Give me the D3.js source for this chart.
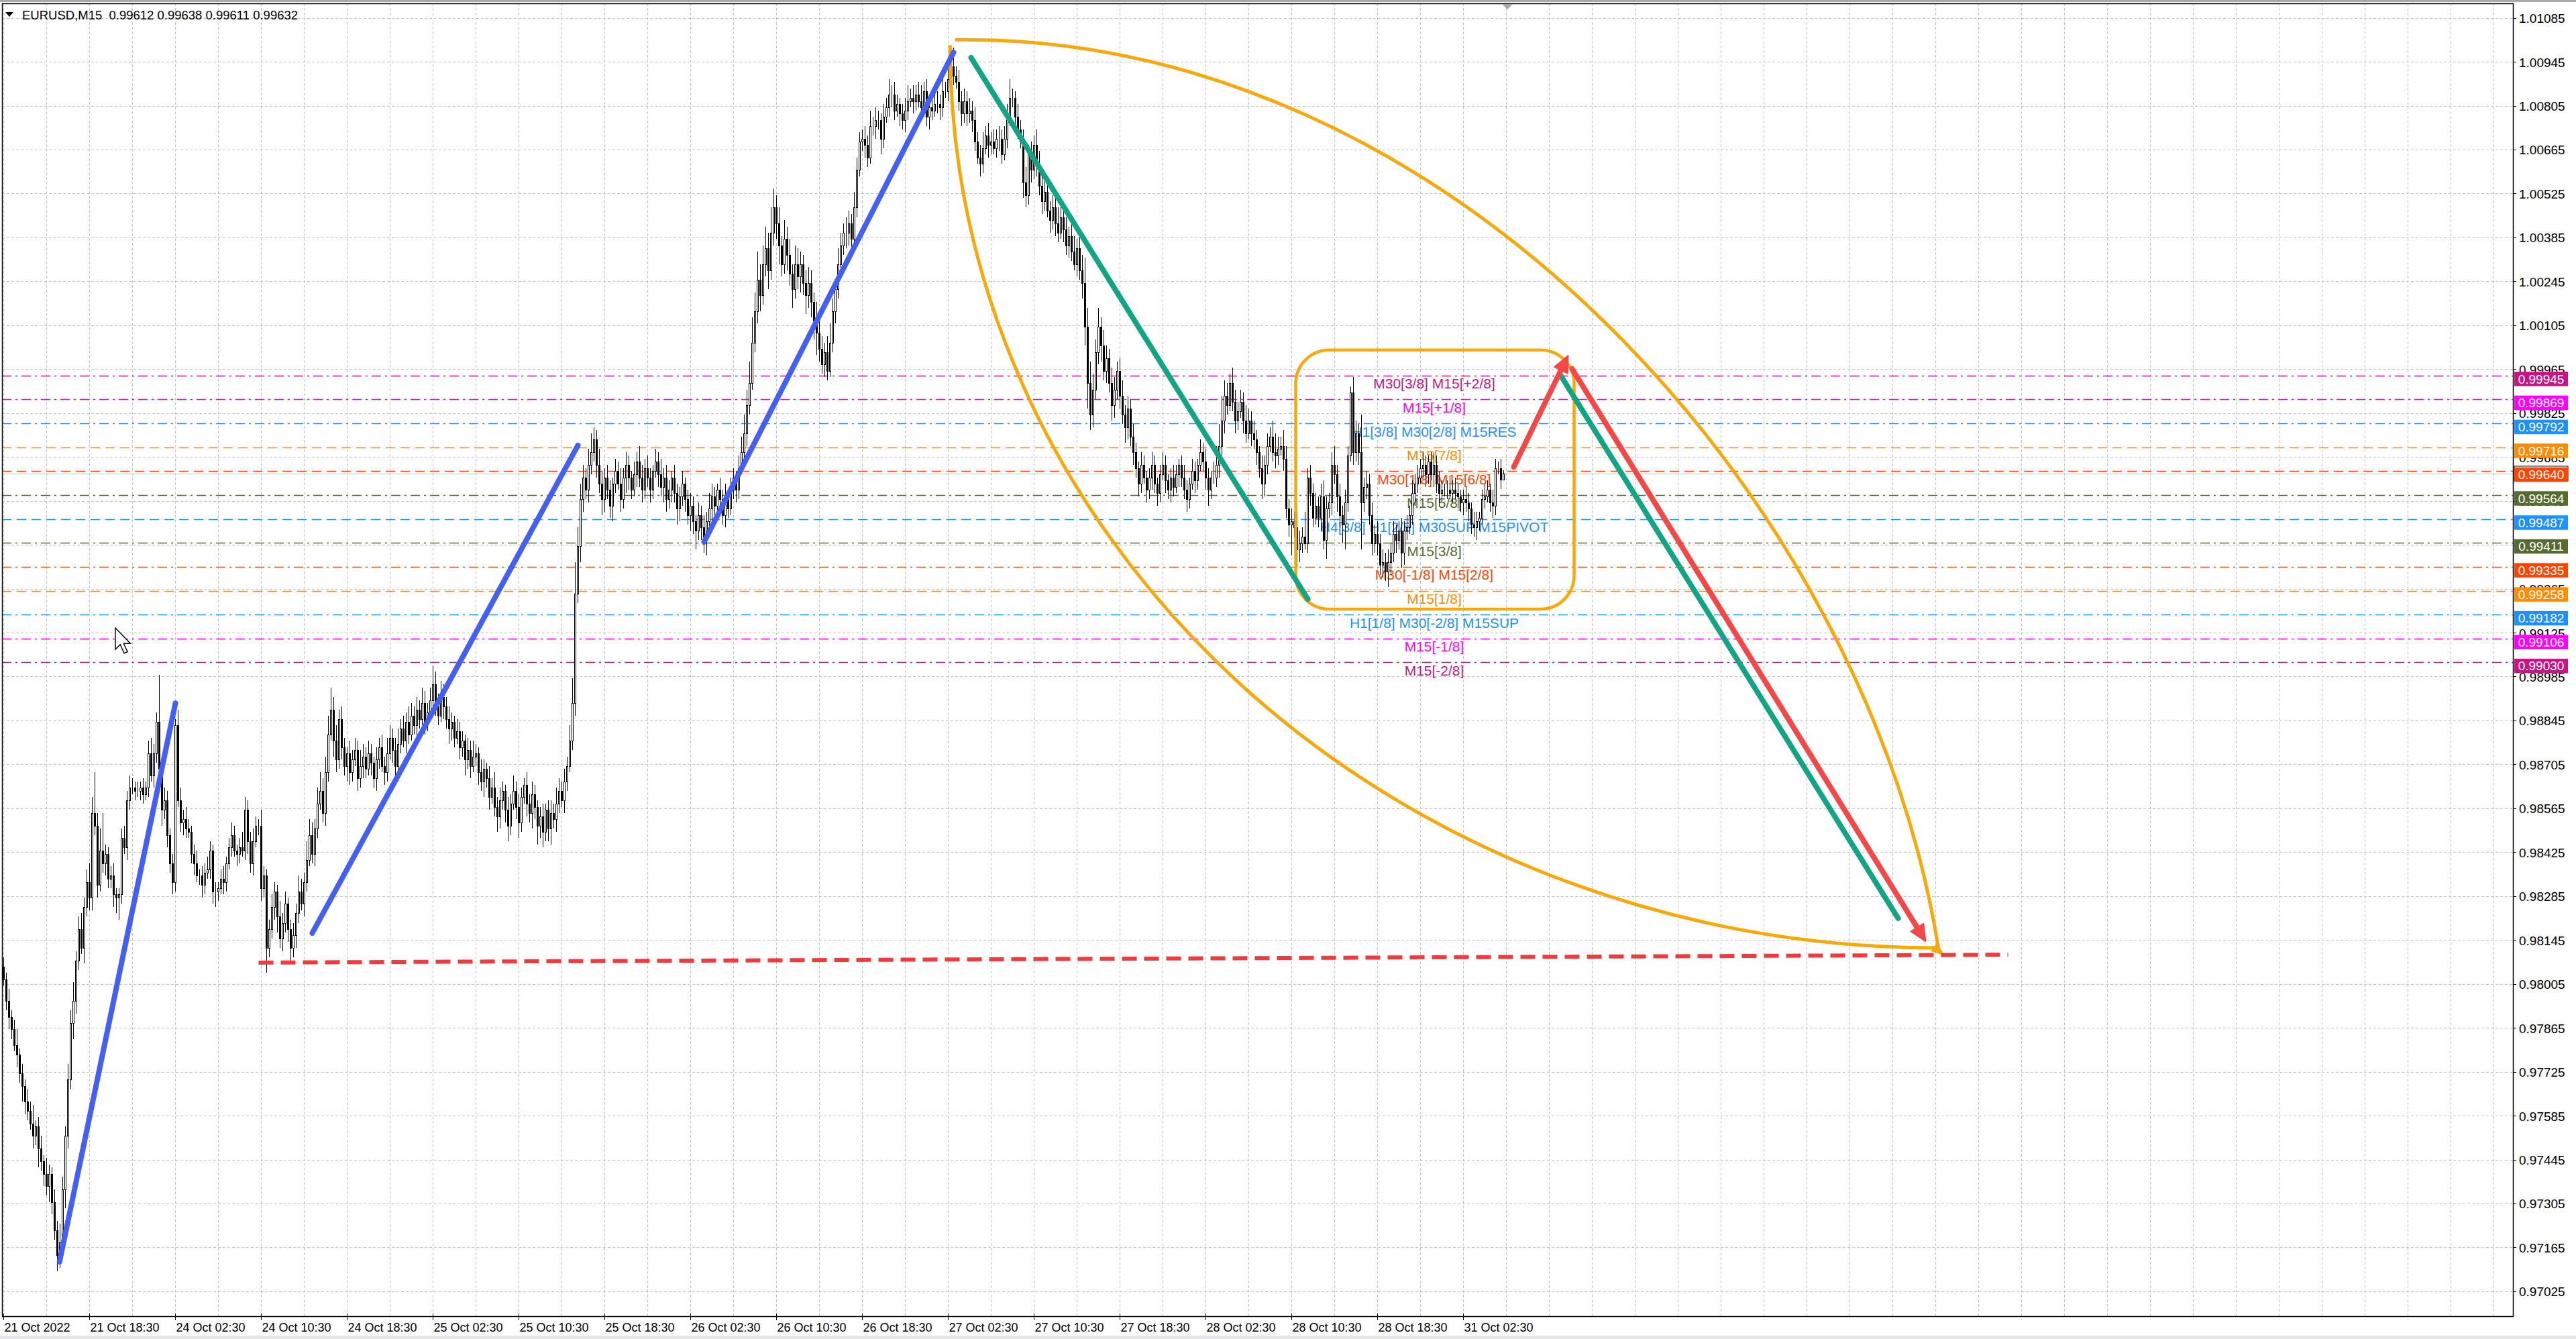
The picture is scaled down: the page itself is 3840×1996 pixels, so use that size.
<!DOCTYPE html>
<html><head><meta charset="utf-8">
<script src="https://cdn.jsdelivr.net/npm/d3@7"></script>
<style>body{margin:0;background:#fff;}svg{display:block;}text{font-family:"Liberation Sans",Arial,sans-serif;}</style>
</head><body>
<svg id="c" width="3840" height="1996"></svg>
<script>
// ---------------- DATA ----------------
const symbolTitle = "EURUSD,M15  0.99612 0.99638 0.99611 0.99632";
const firstOpen = 0.9806;
const closes = [
0.9802,0.9795,0.9790,0.9786,0.9781,0.9778,0.9772,0.9768,0.9763,0.9760,0.9756,0.9752,0.9755,0.9748,0.9744,0.9740,0.9736,0.9740,0.9731,0.9722,0.9714,0.9718,0.9735,0.9752,0.9770,0.9788,0.9795,0.9808,0.9818,0.9812,0.9825,0.9833,0.9828,
0.9855,0.9851,0.9832,0.9843,0.9839,0.9842,0.9834,0.9835,0.9829,0.9828,
0.9829,0.9847,0.9844,0.9859,0.9863,0.9863,0.9862,0.9862,0.9863,0.9861,
0.9863,0.9874,0.9867,0.9874,0.9884,0.9869,0.9856,0.9859,0.9848,0.9839,
0.9833,0.9883,0.9859,0.9852,0.9853,0.9850,0.9849,0.9842,0.9839,0.9835,
0.9835,0.9832,0.9836,0.9837,0.9843,0.9830,0.9830,0.9831,0.9834,0.9833,
0.9839,0.9844,0.9848,0.9843,0.9842,0.9844,0.9843,0.9856,0.9846,0.9839,
0.9846,0.9851,0.9851,0.9831,0.9835,0.9812,
0.9818,0.9825,0.9830,0.9822,0.9815,0.9820,0.9826,0.9818,0.9812,0.9816,
0.9823,0.9830,0.9826,0.9833,0.9840,0.9848,0.9842,0.9850,0.9858,0.9862,
0.9855,0.9868,0.9880,0.9888,0.9878,0.9872,0.9885,0.9876,0.9870,0.9874,
0.9868,0.9872,0.9875,0.9866,0.9870,0.9873,0.9869,0.9874,0.9871,0.9866,
0.9872,0.9876,0.9870,0.9868,0.9874,0.9879,0.9875,0.9870,0.9877,0.9882,
0.9878,0.9884,0.9880,0.9886,0.9883,0.9888,0.9885,0.9890,0.9884,0.9887,
0.9891,0.9896,0.9890,0.9886,0.9892,0.9889,0.9885,0.9882,0.9884,0.9879,
0.9881,0.9876,0.9878,0.9872,0.9875,0.9870,0.9873,0.9874,0.9868,0.9865,
0.9869,0.9866,0.9860,0.9863,0.9857,0.9854,0.9859,0.9862,0.9856,0.9851,
0.9858,0.9862,0.9857,0.9852,0.9860,0.9864,0.9858,0.9855,0.9861,0.9857,
0.9851,0.9854,0.9849,0.9856,0.9850,0.9855,0.9853,0.9858,0.9862,0.9859,
0.9865,0.9870,0.9878,0.9890,0.9925,0.9940,0.9955,0.9962,0.9958,0.9966,
0.9970,0.9974,0.9966,0.9960,0.9955,0.9962,0.9958,0.9953,0.9960,0.9964,
0.9960,0.9955,0.9962,0.9966,0.9962,0.9958,0.9963,0.9967,0.9962,0.9958,
0.9965,0.9962,0.9958,0.9964,0.9967,0.9963,0.9959,0.9962,0.9955,0.9958,
0.9962,0.9957,0.9952,0.9956,0.9960,0.9955,0.9950,0.9953,0.9948,0.9945,
0.9950,0.9946,0.9943,0.9948,0.9952,0.9956,0.9953,0.9958,0.9955,0.9950,
0.9955,0.9952,0.9958,0.9962,0.9958,0.9965,0.9970,0.9976,0.9985,0.9992,
1.0005,1.0015,1.0025,1.0020,1.0030,1.0035,1.0028,1.0040,1.0048,1.0043,
1.0036,1.0030,1.0038,1.0033,1.0027,1.0022,1.0030,1.0026,1.0030,1.0024,
1.0020,1.0024,1.0018,1.0012,1.0008,1.0003,0.9998,1.0002,0.9996,1.0005,
1.0015,1.0022,1.0030,1.0036,1.0040,
1.0040,1.0043,1.0038,1.0048,1.0060,1.0069,1.0070,1.0068,1.0064,1.0074,
1.0074,1.0076,1.0076,1.0070,1.0077,1.0080,1.0084,1.0084,1.0079,1.0081,
1.0078,1.0076,1.0079,1.0082,1.0083,1.0082,1.0084,1.0082,1.0080,1.0085,
1.0077,1.0080,1.0079,1.0081,1.0081,1.0080,1.0085,1.0085,1.0089,1.0093,
1.0090,1.0088,1.0082,1.0078,1.0082,1.0078,1.0079,1.0076,1.0069,1.0064,
1.0062,1.0067,1.0071,1.0068,1.0069,1.0067,1.0070,1.0070,1.0065,1.0070,
1.0076,1.0083,1.0083,1.0077,1.0073,1.0069,1.0056,1.0052,1.0065,1.0060,
1.0068,1.0062,
1.0055,1.0050,1.0053,1.0047,1.0044,1.0048,1.0043,1.0040,1.0045,1.0041,
1.0036,1.0039,1.0034,1.0030,1.0035,1.0028,1.0024,1.0010,0.9992,0.9982,
0.9990,1.0002,1.0010,1.0004,0.9996,1.0000,0.9992,0.9985,0.9990,0.9996,
0.9988,0.9982,0.9978,0.9984,0.9975,0.9970,0.9965,0.9960,0.9966,0.9962,
0.9958,0.9962,0.9966,0.9960,0.9957,0.9963,0.9966,0.9961,0.9958,0.9962,
0.9959,0.9963,0.9966,0.9962,0.9958,0.9955,0.9960,0.9964,0.9961,0.9966,
0.9970,0.9967,0.9962,0.9958,0.9962,0.9962,0.9966,0.9972,0.9980,0.9988,
0.9985,0.9992,0.9986,0.9980,0.9983,0.9986,0.9980,0.9976,0.9980,0.9976,
0.9974,0.9970,0.9965,0.9960,0.9966,0.9972,0.9975,0.9970,
0.9969,0.9971,0.9972,0.9968,0.9952,0.9947,0.9948,0.9946,0.9939,0.9941,
0.9943,0.9941,0.9962,0.9957,0.9949,0.9953,0.9949,0.9956,0.9942,0.9952,
0.9954,0.9966,0.9963,0.9956,0.9950,0.9947,0.9954,0.9969,0.9989,0.9970,
0.9976,0.9970,0.9954,0.9959,0.9960,0.9950,0.9941,0.9944,0.9941,0.9934,
0.9935,0.9932,0.9935,0.9938,0.9944,0.9942,0.9945,0.9938,0.9945,0.9946,
0.9950,0.9957,0.9960,0.9962,0.9965,0.9966,0.9963,0.9967,0.9963,0.9966,
0.9960,0.9957,0.9958,0.9958,0.9958,0.9957,0.9958,0.9957,0.9956,0.9954,
0.9955,0.9954,0.9952,0.9947,0.9946,0.9948,0.9949,0.9955,0.9956,0.9958,
0.9954,0.9953,0.9965,0.9965,0.99612,0.99632
];
// wick lengths above / below the body, in pips
const wickUp = [
3,2,4,2,3,5,2,3,2,4,3,6,2,3,4,2,5,3,2,4,
3,6,4,3,5,4,6,3,4,5,3,4,6,5,13,4,7,12,3,2,
3,4,2,2,3,4,3,4,3,2,3,2,3,2,4,5,3,3,15,3,
4,3,2,3,2,5,4,3,4,3,2,3,4,2,3,3,4,3,2,3,
2,3,4,2,3,4,3,2,3,5,4,3,3,4,3,2,5,3,2,3,
4,3,2,5,3,4,2,3,4,3,5,4,3,6,5,4,3,5,6,4,
5,6,7,4,5,3,4,3,2,4,3,4,3,5,4,3,4,3,2,4,
3,4,3,5,4,3,4,5,3,4,3,5,4,3,4,3,5,4,3,4,
6,4,3,5,4,3,4,3,2,4,3,3,2,4,3,5,3,2,4,3,
2,4,3,5,3,4,3,2,4,3,5,3,4,3,2,4,3,4,3,2,
3,4,2,3,4,3,5,4,3,4,3,5,8,10,6,5,4,3,5,6,
4,3,5,4,3,4,3,2,4,3,5,3,4,3,2,4,3,5,4,3,
4,3,2,4,3,5,3,4,3,2,4,3,3,4,2,3,4,3,2,4,
3,4,3,5,4,3,2,4,3,5,3,4,3,2,4,5,6,5,7,8,
6,9,5,6,7,5,8,6,4,5,3,6,4,5,3,6,5,4,3,4,
5,4,3,6,5,4,3,5,6,4,3,5,4,3,5,4,3,5,4,3,
3,4,3,5,3,4,3,2,4,3,5,3,4,3,2,3,4,5,3,4,
3,4,5,3,4,3,4,3,4,3,5,3,4,5,6,3,4,3,4,3,
4,3,4,3,4,5,3,4,3,4,3,4,3,4,5,6,3,2,4,3,
4,5,3,4,3,5,4,3,4,5,3,4,3,5,4,3,4,3,4,5,
3,4,5,8,6,7,5,4,6,3,5,4,3,5,4,3,4,5,3,4,
3,4,3,2,4,3,2,3,4,3,2,3,4,3,2,3,4,3,2,3,
4,3,2,4,3,2,4,3,4,3,2,5,6,7,8,5,4,3,5,4,
3,4,3,5,4,3,4,3,2,4,3,4,3,5,6,4,3,5,4,3,
4,3,5,4,3,8,3,4,3,4,3,4,5,4,3,4,6,3,4,3,
4,3,2,5,4,3,12,3,4,3,4,3,4,3,4,3,4,3,4,3,
3,4,3,4,3,4,3,4,3,4,3,2,3,4,3,4,3,2,3,4,
3,4,3,2,3,4,3,2,4,3,2,3,4,3,2,4,3,2,3,1
];
const wickDn = [
2,3,4,3,2,4,3,5,4,3,2,4,3,6,3,4,3,5,4,3,
5,4,3,6,4,3,5,4,3,2,5,3,4,4,3,4,2,3,4,3,
3,4,5,7,3,2,4,3,2,3,2,3,3,2,3,2,4,3,4,5,
3,4,3,4,3,2,3,4,3,2,3,4,2,3,4,3,2,3,4,5,
3,2,4,3,2,3,2,4,3,2,3,4,3,4,2,3,4,3,8,3,
3,4,5,3,4,3,4,5,3,4,3,2,4,3,2,3,4,3,2,3,
4,3,2,5,4,3,4,3,5,4,3,2,4,3,4,3,2,4,3,4,
3,2,4,3,2,4,3,5,3,2,4,3,2,3,4,3,2,4,3,2,
3,4,3,2,4,3,5,4,3,2,4,3,5,3,4,2,3,4,3,5,
3,4,2,3,5,4,3,4,5,3,2,4,5,3,2,4,3,5,4,6,
4,5,3,4,5,3,4,3,2,4,3,2,3,4,3,5,4,3,4,3,
3,4,3,5,4,3,4,5,3,2,4,3,5,4,3,2,4,3,4,3,
3,4,3,2,4,3,5,4,3,4,3,5,4,3,4,3,5,4,6,3,
4,5,6,3,4,3,2,4,3,4,3,2,3,4,3,2,3,4,3,2,
3,4,5,3,4,6,3,4,5,6,4,3,5,4,6,3,4,5,4,6,
4,5,6,7,4,3,4,3,2,3,4,3,4,3,5,4,3,4,3,2,
3,4,3,2,3,4,3,5,3,2,3,4,3,2,4,3,4,3,2,4,
3,2,4,3,3,4,3,2,3,4,3,2,3,2,3,2,3,4,3,4,
3,4,3,2,4,3,2,4,3,2,3,4,3,2,3,2,3,4,3,2,
5,4,3,4,3,4,3,4,3,2,4,3,4,3,2,4,3,4,3,2,
4,3,5,6,8,5,4,3,4,5,3,4,3,5,4,3,4,3,5,4,
3,4,3,4,3,2,4,3,4,3,4,3,2,4,3,4,3,2,4,3,
3,4,3,2,4,3,2,3,4,5,3,2,3,4,3,4,3,2,3,4,
3,2,4,3,2,4,3,4,3,5,4,3,2,3,4,3,2,4,3,4,
10,3,6,4,3,2,3,4,3,2,3,4,3,6,3,4,3,5,4,6,
8,3,2,4,3,4,15,3,4,3,4,3,4,3,4,3,5,4,3,4,
3,5,4,3,2,3,4,3,2,3,4,3,2,4,3,4,3,2,3,2,
3,2,4,3,4,3,4,3,3,4,3,2,3,2,3,4,3,2,3,0
];
const priceTicks = ["1.01085","1.00945","1.00805","1.00665","1.00525","1.00385","1.00245","1.00105","0.99965","0.99825","0.99685","0.99545","0.99405","0.99265","0.99125","0.98985","0.98845","0.98705","0.98565","0.98425","0.98285","0.98145","0.98005","0.97865","0.97725","0.97585","0.97445","0.97305","0.97165","0.97025"];
const timeLabels = ["21 Oct 2022","21 Oct 18:30","24 Oct 02:30","24 Oct 10:30","24 Oct 18:30","25 Oct 02:30","25 Oct 10:30","25 Oct 18:30","26 Oct 02:30","26 Oct 10:30","26 Oct 18:30","27 Oct 02:30","27 Oct 10:30","27 Oct 18:30","28 Oct 02:30","28 Oct 10:30","28 Oct 18:30","31 Oct 02:30"];
const timeLabelBars = [0,32,64,96,128,160,192,224,256,288,320,352,384,416,448,480,512,544];
const levelPrices = [0.99945,0.99869,0.99792,0.99716,0.99640,0.99564,0.99487,0.99411,0.99335,0.99258,0.99182,0.99106,0.99030];
const levelLabels = ["M30[3/8] M15[+2/8]","M15[+1/8]","H1[3/8] M30[2/8] M15RES","M15[7/8]","M30[1/8] M15[6/8]","M15[5/8]","H4[3/8] H1[2/8] M30SUP M15PIVOT","M15[3/8]","M30[-1/8] M15[2/8]","M15[1/8]","H1[1/8] M30[-2/8] M15SUP","M15[-1/8]","M15[-2/8]"];
const levelColors = ["#C71585","#FF00FF","#1E90FF","#FF8C00","#FF4500","#556B2F","#1E90FF","#556B2F","#FF4500","#FF8C00","#1E90FF","#FF00FF","#C71585"];
const levelDashed = [0,0,0,1,1,0,1,0,0,1,0,0,0];
const lastPrice = 0.99632;
// drawn objects: [bar0, price0, bar1, price1]
const blueLines = [[20.8,0.97119,64,0.98900],[115,0.98167,214,0.99722],[261,0.99414,354,1.00975]];
const greenLines = [[360.5,1.00958,486,0.99232],[580,0.99948,706,0.98214]];
const redArrows = [[562.75,0.99653,583,1.00008],[584.5,0.99966,716.25,0.98141]];
const redDashed = [95,0.98073,747,0.98098];
// orange curve: start, two bezier controls, end  [bar, price]
const upperArc = [[354.5,1.01015],[537.4,1.01037],[693.5,0.99571],[721,0.98120]];
const lowerArcStart = [352.7,1.00998];
const boxCorners = [481.5,1.00026,585.25,0.99200];

// ---------------- LAYOUT ----------------
const W=3840,H=1996;
const P={l:3,t:5,r:3746,b:1962};
const svg=d3.select("#c");
const x=d3.scaleLinear().domain([0,1]).range([5.5,9.5]);
const y=d3.scaleLinear().domain([0.97025,1.01085]).range([1924.9,26.6]);
const cy=p=>Math.round(y(p))+0.5;

svg.append("rect").attr("width",W).attr("height",H).attr("fill","#fff");
svg.append("rect").attr("x",0).attr("y",0).attr("width",W).attr("height",3).attr("fill","#a9a9a9");
svg.append("rect").attr("x",0).attr("y",1991).attr("width",W).attr("height",5).attr("fill","#e6e6e6");

svg.append("defs").append("clipPath").attr("id","pc").append("rect")
  .attr("x",P.l).attr("y",P.t).attr("width",P.r-P.l).attr("height",P.b-P.t);
const g=svg.append("g").attr("clip-path","url(#pc)");

// grid
g.selectAll("line.hg").data(priceTicks).join("line").attr("class","hg")
  .attr("x1",P.l).attr("x2",P.r).attr("y1",d=>cy(+d)).attr("y2",d=>cy(+d))
  .attr("stroke","#c4c4c4").attr("stroke-width",1).attr("stroke-dasharray","4,3");
g.selectAll("line.vg").data(d3.range(0,940,16)).join("line").attr("class","vg")
  .attr("x1",d=>x(d)).attr("x2",d=>x(d)).attr("y1",P.t).attr("y2",P.b)
  .attr("stroke","#c4c4c4").attr("stroke-width",1).attr("stroke-dasharray","4,3");

// level lines
const levels=levelPrices.map((p,i)=>({p,label:levelLabels[i],color:levelColors[i],dash:levelDashed[i]}));
g.selectAll("line.lv").data(levels).join("line").attr("class","lv")
  .attr("x1",P.l).attr("x2",P.r).attr("y1",d=>cy(d.p)).attr("y2",d=>cy(d.p))
  .attr("stroke",d=>d.color).attr("stroke-width",1.3)
  .attr("stroke-dasharray",d=>d.dash?"14,8":"14,6,3,6");
g.append("line").attr("x1",P.l).attr("x2",P.r).attr("y1",cy(lastPrice)).attr("y2",cy(lastPrice))
  .attr("stroke","#bdbdbd").attr("stroke-width",1.2);
g.selectAll("text.lt").data(levels).join("text").attr("class","lt")
  .attr("x",2138).attr("y",d=>y(d.p)+12).attr("text-anchor","middle")
  .attr("dominant-baseline","central").attr("font-size",21).attr("fill",d=>d.color).text(d=>d.label);

// candles
const bars=closes.map((c,i)=>{const o=i===0?firstOpen:closes[i-1];
  return {i,o,c,h:Math.max(o,c)+wickUp[i]*1e-4,l:Math.min(o,c)-wickDn[i]*1e-4};});
const cg=g.append("g");
cg.selectAll("line.wk").data(bars).join("line").attr("class","wk")
  .attr("x1",d=>x(d.i)).attr("x2",d=>x(d.i)).attr("y1",d=>Math.round(y(d.h))).attr("y2",d=>Math.round(y(d.l)))
  .attr("stroke","#000").attr("stroke-width",1);
cg.selectAll("rect.bd").data(bars).join("rect").attr("class","bd")
  .attr("x",d=>x(d.i)-1).attr("width",2)
  .attr("y",d=>Math.round(y(Math.max(d.o,d.c)))+0.5)
  .attr("height",d=>Math.max(0,Math.round(y(Math.min(d.o,d.c)))-Math.round(y(Math.max(d.o,d.c)))))
  .attr("fill",d=>d.c>=d.o?"#fff":"#000").attr("stroke","#000").attr("stroke-width",1);

// orange objects
const orange="#F9A80A";
const ua=upperArc.map(d=>[x(d[0]),y(d[1])]);
g.append("path").attr("d",`M${ua[0]} C${ua[1]} ${ua[2]} ${ua[3]}`)
  .attr("fill","none").attr("stroke",orange).attr("stroke-width",5);
const a0b=[x(lowerArcStart[0]),y(lowerArcStart[1])], a1=ua[3];
g.append("path").attr("d",`M${a0b[0]},${a0b[1]} A${a1[0]-a0b[0]},${a1[1]-a0b[1]} 0 0 0 ${a1[0]},${a1[1]}`)
  .attr("fill","none").attr("stroke",orange).attr("stroke-width",5);
g.append("path").attr("d",`M${a1[0]+6},${a1[1]+9} l-15,-5 l7,-9 z`).attr("fill",orange).attr("stroke",orange).attr("stroke-width",3);
const bx0=x(boxCorners[0]),by0=y(boxCorners[1]),bx1=x(boxCorners[2]),by1=y(boxCorners[3]);
g.append("rect").attr("x",bx0).attr("y",by0).attr("width",bx1-bx0).attr("height",by1-by0)
  .attr("rx",50).attr("ry",50).attr("fill","none").attr("stroke",orange).attr("stroke-width",4.5);

// trend lines
function seg(sel,arr,color){
  sel.selectAll(null).data(arr).join("line")
   .attr("x1",d=>x(d[0])).attr("y1",d=>y(d[1])).attr("x2",d=>x(d[2])).attr("y2",d=>y(d[3]))
   .attr("stroke",color).attr("stroke-width",8).attr("stroke-linecap","round");
}
seg(g,blueLines,"#4460F2");
seg(g,greenLines,"#12A585");
g.append("line").attr("x1",x(redDashed[0])).attr("y1",y(redDashed[1])).attr("x2",x(redDashed[2])).attr("y2",y(redDashed[3]))
  .attr("stroke","#EE3B3B").attr("stroke-width",6).attr("stroke-dasharray","22,11");
redArrows.forEach(d=>{
  const x0=x(d[0]),y0=y(d[1]),x1=x(d[2]),y1=y(d[3]);
  const ang=Math.atan2(y1-y0,x1-x0), L=24, Wd=11;
  const bxp=x1-L*Math.cos(ang), byp=y1-L*Math.sin(ang);
  g.append("line").attr("x1",x0).attr("y1",y0).attr("x2",bxp).attr("y2",byp)
   .attr("stroke","#F24848").attr("stroke-width",8).attr("stroke-linecap","round");
  const px=-Math.sin(ang)*Wd, py=Math.cos(ang)*Wd;
  g.append("path").attr("d",`M${x1},${y1} L${bxp+px},${byp+py} L${bxp-px},${byp-py} Z`)
   .attr("fill","#F24848").attr("stroke","#F24848").attr("stroke-width",2).attr("stroke-linejoin","round");
});

// mouse cursor
svg.append("path").attr("transform","translate(172,936) scale(1.45)")
  .attr("d","M0,0 L0,22 L5,17 L9,26 L12.5,24.5 L8.5,16 L15.5,16 Z")
  .attr("fill","#fff").attr("stroke","#000").attr("stroke-width",1);

// frame
svg.append("rect").attr("x",P.l+0.5).attr("y",P.t+0.5).attr("width",P.r-P.l).attr("height",P.b-P.t)
  .attr("fill","none").attr("stroke","#000").attr("stroke-width",1.5);
svg.append("path").attr("d","M2239,6 L2255,6 L2247,14 Z").attr("fill","#a8a8a8");

// price axis
const ax=svg.append("g");
ax.selectAll("line.tk").data(priceTicks).join("line").attr("x1",P.r).attr("x2",P.r+5)
  .attr("y1",d=>cy(+d)).attr("y2",d=>cy(+d)).attr("stroke","#000");
ax.selectAll("text.pl").data(priceTicks).join("text").attr("x",3755).attr("y",d=>y(+d)+1)
  .attr("dominant-baseline","central").attr("font-size",19).attr("fill","#000").text(d=>d);
ax.append("rect").attr("x",3748).attr("y",y(lastPrice)-11).attr("width",80).attr("height",22).attr("fill","#fff").attr("stroke","#000");
const tg=ax.selectAll("g.tag").data(levels).join("g");
tg.append("rect").attr("x",3748).attr("y",d=>y(d.p)-5.5).attr("width",80).attr("height",21.5).attr("fill",d=>d.color);
tg.append("text").attr("x",3788).attr("y",d=>y(d.p)+5.5).attr("text-anchor","middle").attr("dominant-baseline","central")
  .attr("font-size",19).attr("fill","#fff").text(d=>d.p.toFixed(5));

// time axis
const tx=svg.append("g");
tx.selectAll("line.tt").data(timeLabelBars).join("line").attr("x1",d=>x(d)).attr("x2",d=>x(d))
  .attr("y1",P.b-4).attr("y2",P.b+6).attr("stroke","#000");
tx.selectAll("text.tl").data(timeLabels).join("text").attr("x",(d,i)=>x(timeLabelBars[i])+1).attr("y",1979)
  .attr("dominant-baseline","central").attr("font-size",18).attr("fill","#000").text(d=>d);

// header
svg.append("path").attr("d","M8,18 L20,18 L14,25 Z").attr("fill","#000");
svg.append("text").attr("x",33).attr("y",22).attr("dominant-baseline","central").attr("font-size",18.5)
  .attr("fill","#000").style("white-space","pre").text(symbolTitle);
</script>
</body></html>
